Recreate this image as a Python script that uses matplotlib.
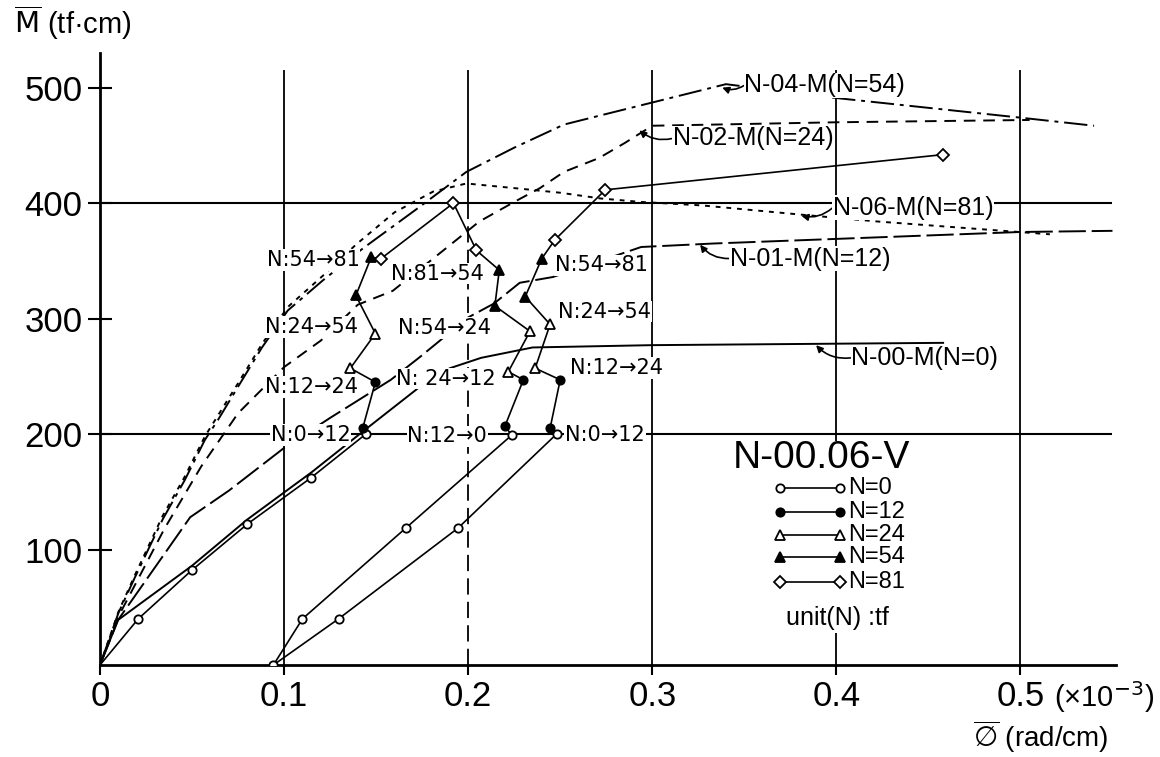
import matplotlib
matplotlib.use("Agg")
from matplotlib import pyplot as plt
from matplotlib.patches import Rectangle

plt.rcParams['font.family'] = ['Liberation Sans', 'DejaVu Sans']
plt.rcParams['mathtext.fontset'] = 'dejavusans'

# monotonic loading curves (phi in 1e-3 rad/cm, M in tf*cm)
phi_00 = [0, 0.0098, 0.05, 0.08, 0.115, 0.145, 0.173, 0.19, 0.207, 0.235, 0.30, 0.458]
m_00 = [0, 39, 86, 126, 167, 205, 240, 257, 266, 275, 277, 279]

phi_01 = [0, 0.0098, 0.049, 0.07, 0.1, 0.125, 0.158, 0.174, 0.2, 0.214, 0.228, 0.246, 0.294, 0.333, 0.5, 0.55]
m_01 = [0, 39, 128, 151, 188, 214, 247, 267, 301, 313, 331, 336, 362, 365, 375, 376]

phi_02 = [0, 0.01, 0.035, 0.055, 0.075, 0.1, 0.12, 0.14, 0.159, 0.181, 0.206, 0.225, 0.239, 0.252, 0.271, 0.285, 0.30, 0.40, 0.505]
m_02 = [0, 42, 118, 172, 218, 258, 281, 312, 324, 352, 384, 401, 413, 427, 439, 452, 467, 470, 472]

phi_04 = [0, 0.01, 0.019, 0.034, 0.046, 0.057, 0.064, 0.075, 0.088, 0.102, 0.121, 0.143, 0.173, 0.199, 0.225, 0.252, 0.272, 0.34, 0.40, 0.50, 0.54]
m_04 = [0, 45, 76, 126, 160, 195, 212, 241, 275, 307, 333, 361, 396, 427, 448, 468, 476, 503, 491, 474, 467]

phi_06 = [0, 0.01, 0.019, 0.034, 0.046, 0.057, 0.075, 0.088, 0.102, 0.121, 0.139, 0.16, 0.181, 0.199, 0.225, 0.25, 0.272, 0.294, 0.327, 0.381, 0.423, 0.516]
m_06 = [0, 46, 78, 129, 163, 198, 244, 278, 310, 337, 364, 392, 410, 417, 413, 409, 404, 401, 398, 390, 384, 373]

# test N-00.06-V path, axial load N at each point
path_phi = [0, 0.0208, 0.0498, 0.080, 0.1145, 0.1444, 0.1427, 0.1496, 0.136, 0.1496, 0.139, 0.1473,
            0.1527, 0.192, 0.2045, 0.2169, 0.2145, 0.2336, 0.2218, 0.230, 0.220, 0.2236, 0.1664, 0.110,
            0.0942, 0.1296, 0.1945, 0.248, 0.2445, 0.25, 0.2364, 0.2445, 0.231, 0.240, 0.247, 0.2745, 0.458]
path_m = [0, 40, 82, 122, 162, 200, 205, 245, 257, 287, 320, 353,
          352, 400, 359, 342, 311, 289, 254, 247, 207, 199, 119, 40,
          0, 40, 118.6, 200, 205, 247, 257, 295, 319, 352, 368, 411.5, 442]
path_N = [0, 0, 0, 0, 0, 0, 12, 12, 24, 24, 54, 54,
          81, 81, 81, 54, 54, 24, 24, 12, 12, 0, 0, 0,
          0, 0, 0, 0, 12, 12, 24, 24, 54, 54, 81, 81, 81]

N_levels = [0, 12, 24, 54, 81]
N_markers = {0: ('o', 'white', 6), 12: ('o', 'black', 6), 24: ('^', 'white', 7),
             54: ('^', 'black', 7), 81: ('D', 'white', 6)}

# N change labels: (text, phi, M, alignment)
step_labels = [
    ("N:54→81", 0.141, 351, 'right'),
    ("N:24→54", 0.140, 293, 'right'),
    ("N:12→24", 0.140, 241, 'right'),
    ("N:0→12", 0.136, 199, 'right'),
    ("N:81→54", 0.158, 339, 'left'),
    ("N:54→24", 0.162, 292, 'left'),
    ("N: 24→12", 0.161, 248, 'left'),
    ("N:12→0", 0.167, 198, 'left'),
    ("N:54→81", 0.247, 346, 'left'),
    ("N:24→54", 0.249, 306, 'left'),
    ("N:12→24", 0.2554, 257, 'left'),
    ("N:0→12", 0.2527, 199, 'left'),
]

# curve names: (text, text pos, arrow tip)
curve_labels = [
    ("N-04-M(N=54)", (0.350, 502), (0.338, 500)),
    ("N-02-M(N=24)", (0.311, 456), (0.293, 463)),
    ("N-06-M(N=81)", (0.398, 396), (0.381, 389)),
    ("N-01-M(N=12)", (0.342, 352), (0.326, 364)),
    ("N-00-M(N=0)", (0.408, 266), (0.389, 277)),
]

fig = plt.figure(figsize=(11.6, 7.57), dpi=100)
ax = fig.add_axes([0.0862, 0.1215, 0.876, 0.8085])
ax.set_xlim(0, 0.552)
ax.set_ylim(0, 530)

for s in ['top', 'right']:
    ax.spines[s].set_visible(False)
for s in ['left', 'bottom']:
    ax.spines[s].set_linewidth(2)

# grid lines
ax.vlines([0.1, 0.3, 0.4, 0.5], 0, 515, colors='black', lw=1.3, zorder=1)
ax.vlines([0.2], 395, 515, colors='black', lw=1.3, zorder=1)
ax.vlines([0.2], 0, 395, colors='black', lw=1.3, linestyles=(0, (9, 4)), zorder=1)
ax.hlines([200, 400], 0, 0.55, colors='black', lw=1.5, zorder=1)

lw = 1.4
ax.plot(phi_00, m_00, color='black', lw=lw, zorder=3)
ax.plot(phi_01, m_01, color='black', lw=lw, dashes=(14, 3), zorder=3)
ax.plot(phi_02, m_02, color='black', lw=lw, dashes=(6, 4), zorder=3)
ax.plot(phi_04, m_04, color='black', lw=lw, dashes=(12, 3, 2, 3), zorder=3)
ax.plot(phi_06, m_06, color='black', lw=lw, dashes=(2.5, 3), zorder=3)

ax.plot(path_phi, path_m, color='black', lw=1.2, zorder=5)
for n in N_levels:
    xs = [p for i, (p, k) in enumerate(zip(path_phi, path_N)) if k == n and i > 0]
    ys = [m for i, (m, k) in enumerate(zip(path_m, path_N)) if k == n and i > 0]
    mk, fc, ms = N_markers[n]
    ax.plot(xs, ys, ls='none', marker=mk, ms=ms, mfc=fc, mec='black', mew=1.3, zorder=6)

for txt, x, y, ha in step_labels:
    ax.text(x, y, txt, fontsize=15, family='DejaVu Sans', ha=ha, va='center', zorder=4,
            bbox=dict(facecolor='white', edgecolor='none', pad=0.6))

for txt, pos, tip in curve_labels:
    ax.annotate(txt, xy=tip, xytext=pos, fontsize=18, ha='left', va='center', zorder=4,
                bbox=dict(facecolor='white', edgecolor='none', pad=0.3),
                arrowprops=dict(arrowstyle='-|>', lw=1.2, color='black', mutation_scale=10,
                                connectionstyle='arc3,rad=-0.25', relpos=(0, 0.5),
                                shrinkA=0, shrinkB=0))

# legend block
ax.add_patch(Rectangle((0.345, 28), 0.098, 166, facecolor='white', edgecolor='none', zorder=2))
ax.text(0.392, 179, "N-00.06-V", fontsize=28, ha='center', va='center', zorder=4)
row_y = [153, 132.5, 112.6, 93.5, 71.9]
for n, y in zip(N_levels, row_y):
    mk, fc, ms = N_markers[n]
    ax.plot([0.3696, 0.402], [y, y], color='black', lw=1.2, marker=mk, ms=ms,
            mfc=fc, mec='black', mew=1.3, zorder=5)
    ax.text(0.4065, y, "N=%d" % n, fontsize=17, ha='left', va='center', zorder=5)
ax.text(0.4005, 41, "unit(N) :tf", fontsize=18, ha='center', va='center', zorder=5)

# ticks
ax.set_yticks([100, 200, 300, 400, 500])
ax.set_yticklabels(['100', '200', '300', '400', '500'])
ax.set_xticks([0, 0.1, 0.2, 0.3, 0.4, 0.5])
ax.set_xticklabels(['0', '0.1', '0.2', '0.3', '0.4', '0.5'])
ax.tick_params(axis='y', direction='inout', length=17, width=1.5, pad=4, labelsize=25)
ax.tick_params(axis='x', direction='out', length=7, width=1.5, pad=4, labelsize=25)

# axis titles
fig.text(0.012, 0.995, r"$\overline{\mathrm{M}}$ (tf·cm)", fontsize=21, ha='left', va='top')
ax.text(0.518, -28, r"(×10$^{-3}$)", fontsize=21, ha='left', va='center', clip_on=False)
ax.text(0.511, -62, r"$\overline{\emptyset}$ (rad/cm)", fontsize=20, ha='center', va='center',
        clip_on=False)

fig.savefig("out.png", dpi=100)
